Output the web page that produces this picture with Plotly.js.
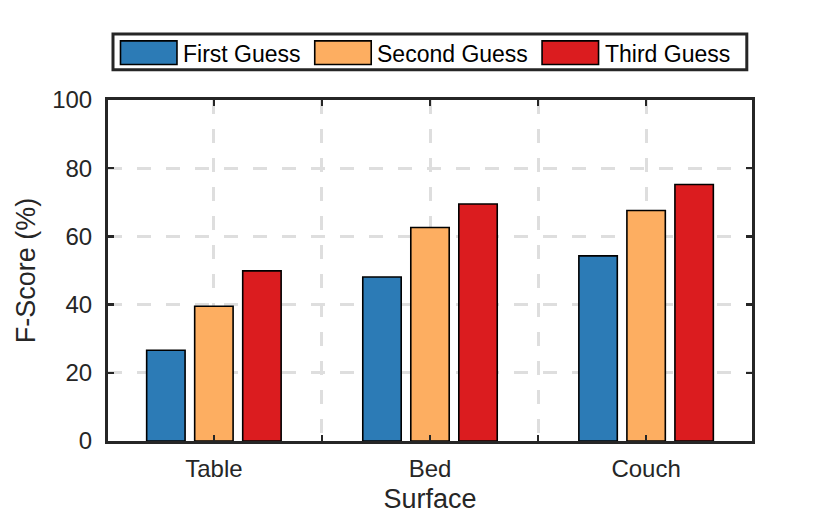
<!DOCTYPE html>
<html>
<head>
<meta charset="utf-8">
<script src="https://cdn.plot.ly/plotly-3.0.1.min.js"></script>
<style>
html,body{margin:0;padding:0;background:#fff;}
#chart{width:830px;height:517px;}
</style>
</head>
<body>
<div id="chart"></div>
<script>
// ---- data ----
var categories = ['Table', 'Bed', 'Couch'];
var seriesNames = ['First Guess', 'Second Guess', 'Third Guess'];
var firstGuess = [26.6, 48.1, 54.3];
var secondGuess = [39.5, 62.6, 67.6];
var thirdGuess = [49.9, 69.5, 75.2];
var yTickVals = [0, 20, 40, 60, 80, 100];
var colors = ['#2c7bb6', '#fdae61', '#db1c1f'];

var seriesValues = [firstGuess, secondGuess, thirdGuess];
var xPos = categories.map(function (c, i) { return i + 1; });

// x ticks at every half unit; labels only at categories
var xTickVals = [], xTickText = [];
categories.forEach(function (c, i) {
  xTickVals.push(i + 1); xTickText.push(c);
  if (i < categories.length - 1) { xTickVals.push(i + 1.5); xTickText.push(''); }
});

var traces = seriesValues.map(function (vals, k) {
  return {
    type: 'bar',
    name: seriesNames[k],
    x: xPos,
    y: vals,
    marker: { color: colors[k], line: { color: '#000000', width: 1.6 } },
    showlegend: false,
    hoverinfo: 'x+y'
  };
});

var FONT = '"Liberation Sans", Arial, Helvetica, sans-serif';
var INK = '#262626';

// plot area in pixels
var L = 107.5, R = 751.7, T = 99.5, B = 441;
var W = 830, H = 517;
function px2x(p) { return (p - L) / (R - L); }
function px2y(p) { return (B - p) / (B - T); }

// custom legend (MATLAB-style large patches)
var shapes = [];
var annotations = [];
shapes.push({
  type: 'rect', xref: 'paper', yref: 'paper',
  x0: px2x(112.5), x1: px2x(746.5), y0: px2y(69.2), y1: px2y(33.5),
  fillcolor: '#ffffff', line: { color: INK, width: 3 }, layer: 'above'
});
var patchX = [120, 314.3, 541.7];
var patchW = 56.5;
seriesNames.forEach(function (name, k) {
  shapes.push({
    type: 'rect', xref: 'paper', yref: 'paper',
    x0: px2x(patchX[k]), x1: px2x(patchX[k] + patchW),
    y0: px2y(64), y1: px2y(40.3),
    fillcolor: colors[k], line: { color: '#000000', width: 1.6 }, layer: 'above'
  });
  annotations.push({
    xref: 'paper', yref: 'paper',
    x: px2x(patchX[k] + patchW + 4), y: px2y(53),
    xanchor: 'left', yanchor: 'middle',
    text: name, showarrow: false,
    font: { family: FONT, size: 23, color: '#000000' }
  });
});

var layout = {
  width: W, height: H,
  margin: { l: L, r: W - R, t: T, b: H - B, pad: 0 },
  paper_bgcolor: '#ffffff',
  plot_bgcolor: '#ffffff',
  font: { family: FONT, size: 24, color: INK },
  barmode: 'group',
  bargap: 1 / 3,
  bargroupgap: 0.2,
  showlegend: false,
  xaxis: {
    range: [0.51, 3.49],
    tickmode: 'array',
    tickvals: xTickVals,
    ticktext: xTickText,
    ticks: 'inside', ticklen: 6, tickwidth: 2.5, tickcolor: INK,
    showline: true, linewidth: 3, linecolor: INK, mirror: 'ticks',
    showgrid: true, gridcolor: '#dedede', gridwidth: 3, griddash: '14px,15px',
    zeroline: false,
    tickfont: { family: FONT, size: 24, color: INK },
    ticklabelstandoff: 4,
    title: { text: 'Surface', font: { family: FONT, size: 27, color: INK }, standoff: 9 }
  },
  yaxis: {
    range: [0, 100],
    tickmode: 'array',
    tickvals: yTickVals,
    ticktext: yTickVals.map(String),
    ticks: 'inside', ticklen: 6, tickwidth: 2.5, tickcolor: INK,
    showline: true, linewidth: 3, linecolor: INK, mirror: 'ticks',
    showgrid: true, gridcolor: '#dedede', gridwidth: 3, griddash: '14px,15px',
    zeroline: false,
    tickfont: { family: FONT, size: 24, color: INK },
    ticklabelstandoff: 8,
    title: { text: 'F-Score (%)', font: { family: FONT, size: 27, color: INK }, standoff: 9 }
  },
  shapes: shapes,
  annotations: annotations
};

Plotly.newPlot('chart', traces, layout, { staticPlot: true, displayModeBar: false });
</script>
</body>
</html>
